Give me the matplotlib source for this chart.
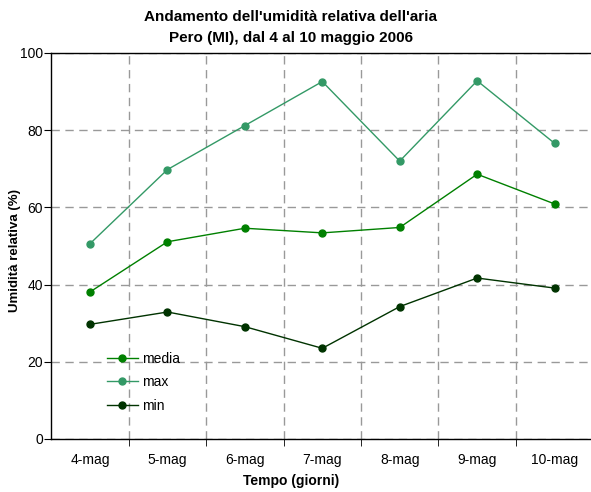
import matplotlib.pyplot as plt
import numpy as np

plt.rcParams['font.family'] = ['Liberation Sans', 'DejaVu Sans']

giorni = ['4-mag', '5-mag', '6-mag', '7-mag', '8-mag', '9-mag', '10-mag']
media = [38.1, 51.1, 54.6, 53.4, 54.8, 68.6, 60.9]
massimo = [50.6, 69.8, 81.2, 92.6, 72.0, 92.8, 76.6]
minimo = [29.7, 32.9, 29.1, 23.5, 34.3, 41.7, 39.1]

fig = plt.figure(figsize=(5.91, 4.92), dpi=100)
ax = fig.add_axes([51.3 / 591, 1 - 439 / 492, 542 / 591, 386 / 492])

x = np.arange(len(giorni))
ax.plot(x, media, color='#008000', marker='o', ms=5, lw=1, label='media')
ax.plot(x, massimo, color='#339966', marker='o', ms=5, lw=1, label='max')
ax.plot(x, minimo, color='#003300', marker='o', ms=5, lw=1, label='min')

ax.set_xlim(-0.5, len(giorni) - 0.5)
ax.set_ylim(0, 100)
ax.set_yticks(range(0, 101, 20))
ax.set_xticks(x)
ax.set_xticklabels(giorni)
ax.set_xticks(x[:-1] + 0.5, minor=True)
ax.tick_params(axis='x', which='major', length=0, labelsize=10, pad=10)
ax.tick_params(axis='x', which='minor', length=5, direction='out')
ax.tick_params(axis='y', labelsize=10, length=5, pad=1)

ax.grid(True, axis='y', which='major', color='#999999', ls=(0, (6, 4)), lw=1)
ax.grid(True, axis='x', which='minor', color='#999999', ls=(0, (6, 4)), lw=1)
ax.spines['right'].set_visible(False)
for s in ['left', 'bottom', 'top']:
    ax.spines[s].set_linewidth(1)

ax.set_xlabel('Tempo (giorni)', fontsize=10, fontweight='bold', va='center')
ax.xaxis.set_label_coords((291 - 51.3) / 542, -(481 - 439) / 386)
ax.set_ylabel('Umidità relativa (%)', fontsize=9.5, fontweight='bold', va='center')
ax.yaxis.set_label_coords(-(51.3 - 15) / 542, (439 - 250) / 386)

fig.text(0.492, 0.965, "Andamento dell'umidità relativa dell'aria", ha='center', va='center',
         fontsize=11, fontweight='bold')
fig.text(0.492, 0.922, "Pero (MI), dal 4 al 10 maggio 2006", ha='center', va='center',
         fontsize=11, fontweight='bold')

ax.legend(loc='lower left', bbox_to_anchor=(0.08, 0.035), frameon=False, fontsize=10,
          handlelength=2.2, handletextpad=0.3, labelspacing=0.7)

fig.savefig('out.png', dpi=100)
